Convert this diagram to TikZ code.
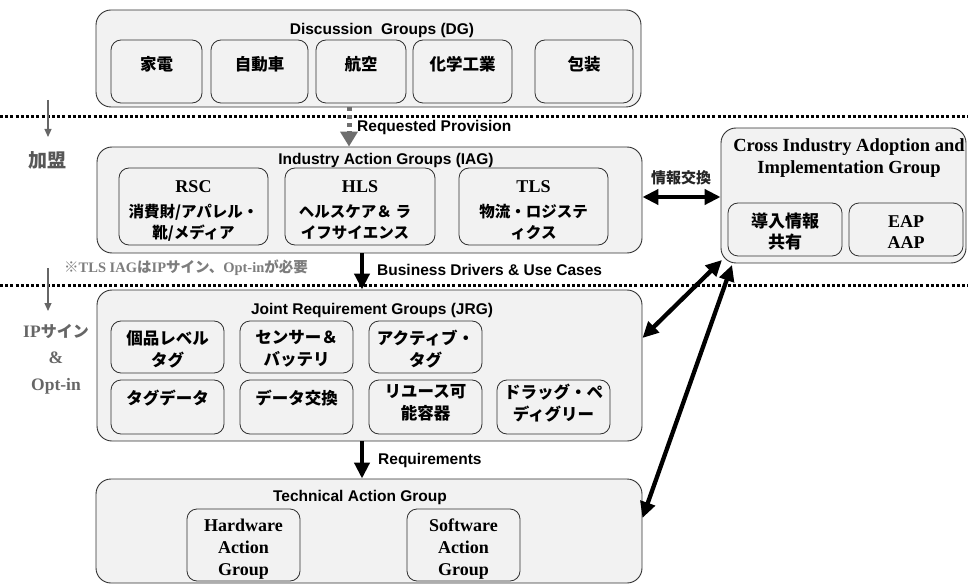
\documentclass[tikz,border=0pt]{standalone}
\usepackage{fontspec}
\setmainfont{Liberation Serif}
\newfontfamily\arial{Liberation Sans}
\newfontfamily\jp{Noto Sans CJK JP}
\usetikzlibrary{arrows.meta}
\definecolor{boxfill}{HTML}{F2F2F2}
\definecolor{boxline}{HTML}{303030}
\definecolor{gtxt}{HTML}{666666}
\definecolor{garrow}{HTML}{6E6E6E}
\begin{document}
\begin{tikzpicture}[x=1pt,y=-1pt,
  obox/.style 2 args={draw=boxline, fill=boxfill, line width=0.9pt, rounded corners=15pt, inner sep=0pt, minimum width=#1pt, minimum height=#2pt},
  ibox/.style 2 args={draw=boxline, fill=boxfill, line width=0.8pt, rounded corners=10pt, inner sep=0pt, minimum width=#1pt, minimum height=#2pt},
  ttl/.style={inner sep=0pt, font=\arial\bfseries\fontsize{15.5}{18}\selectfont},
  jt/.style={inner sep=0pt, align=center, font=\jp\bfseries\fontsize{16.5}{22}\selectfont},
  jts/.style={inner sep=0pt, align=center, font=\jp\bfseries\fontsize{15.5}{21}\selectfont},
  st/.style={inner sep=0pt, align=center, font=\bfseries\fontsize{18}{22}\selectfont},
  lbl/.style={inner sep=0pt, anchor=west, font=\arial\bfseries\fontsize{15.5}{18}\selectfont},
  bigarr/.style={line width=4.3pt, -{Triangle[length=16pt,width=15pt]}},
  dbl/.style={line width=4.3pt, {Triangle[length=16pt,width=15pt]}-{Triangle[length=16pt,width=15pt]}},
  sep/.style={line width=3pt, dash pattern=on 3pt off 2.2pt},
  side/.style={draw=gtxt, line width=1.2pt, -{Triangle[length=8pt,width=7pt]}}
]
\useasboundingbox (0,0) rectangle (968,585);

% separators
\coordinate (s1a) at (0,117); \coordinate (s1b) at (968,117);
\coordinate (s2a) at (0,285); \coordinate (s2b) at (968,285);
\draw[sep] (s1a) -- (s1b);
\draw[sep] (s2a) -- (s2b);

% side arrows & labels
\coordinate (la1) at (48,100); \coordinate (la2) at (48,137);
\coordinate (lb1) at (48,268); \coordinate (lb2) at (48,311);
\draw[side] (la1) -- (la2);
\draw[side] (lb1) -- (lb2);
\node[inner sep=0pt, text=gtxt!85!black, font=\jp\bfseries\fontsize{19}{22}\selectfont] (kamei) at (47,160) {加盟};
\node[inner sep=0pt, text=gtxt, align=center, font=\bfseries\fontsize{17.5}{26.5}\selectfont] (ipsign) at (56,359)
  {IP{\jp\fontsize{16}{26.5}\selectfont サイン}\\\&\\Opt-in};
\node[inner sep=0pt, anchor=west, text=gtxt!85!white, font=\bfseries\fontsize{14.5}{16}\selectfont] (note) at (64,268)
  {{\jp ※}TLS IAG{\jp は}IP{\jp サイン、}Opt-in{\jp が必要}};

% Discussion Groups
\node[obox={545}{97}] (dg) at (368.5,58.5) {};
\node[ttl] (dgt) at (382,30) {Discussion\ \ Groups (DG)};
\node[ibox={91}{63}] (dg1) at (156.5,71.5) {};
\node[ibox={97}{63}] (dg2) at (259.5,71.5) {};
\node[ibox={90}{63}] (dg3) at (361,71.5) {};
\node[ibox={99}{63}] (dg4) at (462.5,71.5) {};
\node[ibox={98}{63}] (dg5) at (584,71.5) {};
\node[jt] (dg1t) at (156.5,64) {家電};
\node[jt] (dg2t) at (259.5,64) {自動車};
\node[jt] (dg3t) at (361,64) {航空};
\node[jt] (dg4t) at (462.5,64) {化学工業};
\node[jt] (dg5t) at (584,64) {包装};

% Industry Action Groups
\node[obox={545}{106}] (iag) at (369.5,200) {};
\node[ttl] (iagt) at (386,160) {Industry Action Groups (IAG)};
\node[ibox={149}{77}] (rsc) at (193.5,206.5) {};
\node[ibox={150}{77}] (hls) at (360,206.5) {};
\node[ibox={149}{77}] (tls) at (533.5,206.5) {};
\node[st] (rsct) at (193.5,187) {RSC};
\node[jts] (rscj) at (193.5,222.5) {消費財/アパレル・\\靴/メディア};
\node[st] (hlst) at (360,187) {HLS};
\node[jts] (hlsj) at (355,222.5) {ヘルスケア＆ ラ\\イフサイエンス};
\node[st] (tlst) at (533.5,187) {TLS};
\node[jts] (tlsj) at (533.5,222.5) {物流・ロジステ\\ィクス};

% Cross Industry group
\node[obox={245}{135}] (cia) at (843.5,195.5) {};
\node[st, font=\bfseries\fontsize{18.5}{22}\selectfont] (ciat) at (849,158) {Cross Industry Adoption and\\Implementation Group};
\node[ibox={114}{53}] (share) at (785,229.5) {};
\node[ibox={114}{53}] (eap) at (906,229.5) {};
\node[jt, font=\jp\bfseries\fontsize{17}{21}\selectfont] (sharet) at (785,232) {導入情報\\共有};
\node[st, font=\bfseries\fontsize{18}{21}\selectfont] (eapt) at (906,232) {EAP\\AAP};

% Joint Requirement Groups
\node[obox={545}{151}] (jrg) at (369.5,365.5) {};
\node[ttl] (jrgt) at (372,310) {Joint Requirement Groups (JRG)};
\node[ibox={113}{52}] (j11) at (167.5,347) {};
\node[ibox={113}{52}] (j12) at (296.5,347) {};
\node[ibox={113}{52}] (j13) at (425.5,347) {};
\node[ibox={113}{54}] (j21) at (167.5,407) {};
\node[ibox={113}{54}] (j22) at (296.5,407) {};
\node[ibox={113}{54}] (j23) at (425.5,407) {};
\node[ibox={113}{54}] (j24) at (553.5,407) {};
\node[jt] (j11t) at (167.5,349) {個品レベル\\タグ};
\node[jt] (j12t) at (296.5,349) {センサー＆\\バッテリ};
\node[jt] (j13t) at (425.5,349) {アクティブ・\\タグ};
\node[jt] (j21t) at (167.5,398) {タグデータ};
\node[jt] (j22t) at (296.5,398) {データ交換};
\node[jt] (j23t) at (425.5,403) {リユース可\\能容器};
\node[jt] (j24t) at (553.5,403) {ドラッグ・ペ\\ディグリー};

% Technical Action Group
\node[obox={546}{104}] (tag) at (369,531) {};
\node[ttl] (tagt) at (360,497) {Technical Action Group};
\node[ibox={113}{72}] (hw) at (243.5,545) {};
\node[ibox={113}{72}] (sw) at (463.5,545) {};
\node[st, font=\bfseries\fontsize{18}{22}\selectfont] (hwt) at (243.5,549) {Hardware\\Action\\Group};
\node[st, font=\bfseries\fontsize{18}{22}\selectfont] (swt) at (463.5,549) {Software\\Action\\Group};

% arrows
\draw[garrow, line width=5pt, dash pattern=on 4pt off 4pt, -{Triangle[length=15pt,width=17pt]}]
  (dg.south -| 349,0) -- (iag.north -| 349,0);
\node[lbl] (rp) at (357,127) {Requested Provision};

\draw[bigarr] (iag.south -| 362,0) -- (jrg.north -| 362,0);
\node[lbl] (bd) at (377,270) {Business Drivers \& Use Cases};

\draw[bigarr] (jrg.south -| 362,0) -- (tag.north -| 362,0);
\node[lbl] (rq) at (378,460) {Requirements};

\draw[dbl] (iag.east |- 0,197) -- (cia.west |- 0,197);
\node[jt, text=black!85, font=\jp\bfseries\fontsize{15}{18}\selectfont] (joho) at (681,178) {情報交換};

\coordinate (c1) at (722,260);
\coordinate (c2) at (732,265);
\draw[dbl] (c1) -- (jrg.east |- 0,338);
\draw[dbl] (c2) -- (tag.east |- 0,518);
\end{tikzpicture}
\end{document}
